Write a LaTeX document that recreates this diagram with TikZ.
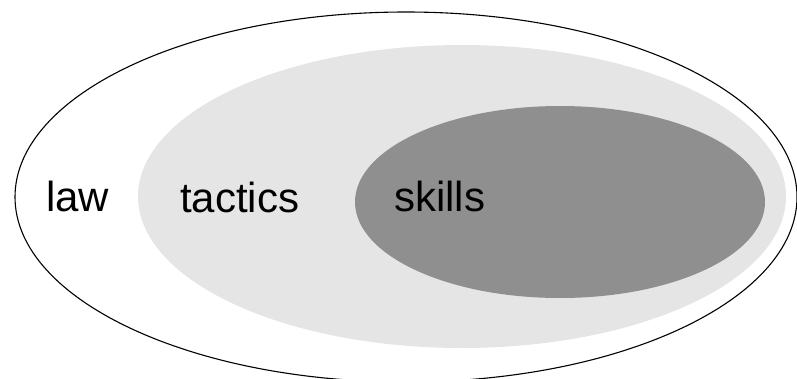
\documentclass[tikz,border=0pt]{standalone}
\usepackage{fontspec}
\setmainfont{Liberation Sans}
\definecolor{midgray}{HTML}{E5E5E5}
\definecolor{darkgray}{HTML}{8F8F8F}
\begin{document}
\begin{tikzpicture}[x=1pt,y=-1pt,
  lbl/.style={anchor=base west,inner sep=0pt,font=\fontsize{42}{48}\selectfont}]
\useasboundingbox (0,0) rectangle (797,378);
\begin{scope}
\clip (0,0) rectangle (797,378);
\draw[line width=1.1pt] (406,197) ellipse [x radius=391,y radius=185];
\end{scope}
\fill[midgray] (462,196.5) ellipse [x radius=324,y radius=151.5];
\fill[darkgray] (560,202) ellipse [x radius=205,y radius=96];
\node[lbl] (law) at (46,211) {law};
\node[lbl] (tactics) at (180,212) {tactics};
\node[lbl] (skills) at (394,211) {skills};
\end{tikzpicture}
\end{document}
